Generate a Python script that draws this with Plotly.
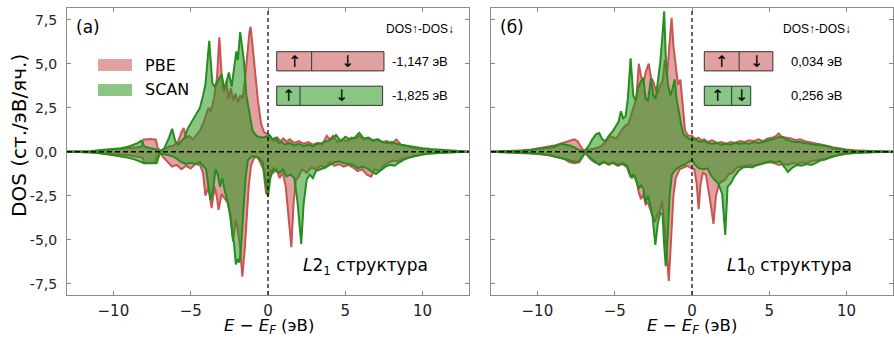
import plotly.graph_objects as go

W, H = 894, 339

# ---------------- DATA: L2_1 structure (panel a) ----------------
l21_pbe_up_E = [-13, -12.5, -11.5, -10.5, -9.5, -9, -8.5, -8.15, -8.05, -7.6, -7.25, -7.15, -6.95, -6.7, -6.4, -6.1, -5.8, -5.6, -5.45, -5.3, -5.1, -4.85, -4.6, -4.4, -4.2, -4.0, -3.85, -3.7, -3.5, -3.3, -3.15, -3.0, -2.85, -2.7, -2.55, -2.4, -2.25, -2.1, -1.95, -1.8, -1.65, -1.5, -1.35, -1.2, -1.12, -1.0, -0.86, -0.65, -0.45, -0.25, 0, 0.2, 0.4, 0.6, 0.8, 1.0, 1.2, 1.4, 1.7, 2.0, 2.3, 2.6, 2.9, 3.2, 3.5, 3.8, 4.0, 4.2, 4.5, 4.8, 5.1, 5.4, 5.7, 5.9, 6.2, 6.5, 6.8, 7.1, 7.4, 7.7, 8.0, 8.3, 8.6, 9.0, 9.5, 10, 10.5, 11, 11.5, 12, 12.5, 13]
l21_pbe_up_v = [0, 0, 0.03, 0.08, 0.15, 0.2, 0.25, 0.3, 0.7, 0.72, 0.68, 0.25, 0.05, 0.15, 0.3, 0.35, 0.6, 1.1, 1.35, 0.8, 0.9, 0.7, 1.0, 1.2, 1.6, 2.1, 2.5, 2.3, 3.0, 4.2, 6.5, 4.4, 3.4, 4.0, 3.0, 3.6, 2.9, 3.3, 2.8, 3.2, 3.0, 4.0, 5.5, 6.8, 7.1, 6.0, 4.7, 2.9, 1.6, 1.1, 1.0, 0.75, 0.6, 0.8, 0.6, 0.75, 0.55, 0.7, 0.5, 0.6, 0.45, 0.55, 0.4, 0.5, 0.4, 0.9, 0.7, 0.9, 0.55, 0.7, 0.6, 0.8, 0.75, 0.9, 0.7, 0.75, 0.6, 0.7, 0.55, 0.6, 0.45, 0.7, 0.4, 0.3, 0.2, 0.15, 0.1, 0.1, 0.05, 0.05, 0.02, 0]

l21_scan_up_E = [-13, -12.5, -11.5, -10.8, -10, -9.5, -9, -8.7, -8.4, -8.2, -8.0, -7.6, -7.3, -7.0, -6.7, -6.4, -6.2, -6.0, -5.8, -5.6, -5.4, -5.2, -5.0, -4.8, -4.6, -4.4, -4.2, -4.05, -3.8, -3.6, -3.45, -3.25, -3.0, -2.85, -2.7, -2.53, -2.35, -2.2, -2.05, -1.95, -1.8, -1.65, -1.55, -1.4, -1.2, -1.0, -0.75, -0.4, 0, 0.1, 0.3, 0.5, 0.7, 0.9, 1.1, 1.4, 1.7, 2.0, 2.3, 2.6, 2.9, 3.2, 3.5, 3.8, 4.1, 4.4, 4.7, 5.0, 5.3, 5.6, 5.9, 6.2, 6.5, 6.8, 7.1, 7.4, 7.7, 8.0, 8.3, 8.6, 8.9, 9.2, 9.6, 10, 10.5, 11, 11.5, 12, 12.5, 13]
l21_scan_up_v = [0, 0, 0.02, 0.1, 0.15, 0.2, 0.3, 0.38, 0.5, 0.62, 0.3, 0.2, 0.15, 0.0, 0.2, 0.8, 1.3, 0.6, 0.4, 0.6, 0.8, 1.3, 1.6, 1.9, 2.2, 2.5, 3.2, 3.8, 6.3, 3.9, 3.7, 4.0, 4.4, 3.6, 3.9, 4.5, 3.7, 4.7, 5.7, 5.2, 6.8, 5.8, 5.1, 3.2, 2.3, 1.2, 0.9, 0.8, 0.9, 0.95, 0.7, 0.8, 0.5, 0.55, 0.4, 0.5, 0.35, 0.45, 0.3, 0.4, 0.3, 0.45, 0.5, 0.6, 0.7, 0.95, 0.6, 0.85, 0.7, 0.8, 1.08, 0.75, 0.8, 0.65, 0.7, 0.55, 0.5, 0.55, 0.45, 0.4, 0.35, 0.3, 0.25, 0.2, 0.15, 0.12, 0.08, 0.05, 0.03, 0]

l21_pbe_dn_E = [-13, -12.5, -11.5, -10.5, -9.5, -9, -8.5, -8.1, -8.0, -7.3, -7.2, -7.0, -6.8, -6.5, -6.2, -5.9, -5.6, -5.3, -5.0, -4.7, -4.4, -4.2, -4.05, -3.85, -3.65, -3.45, -3.3, -3.2, -3.0, -2.85, -2.6, -2.4, -2.26, -2.1, -1.95, -1.8, -1.66, -1.5, -1.4, -1.25, -1.1, -0.9, -0.7, -0.5, -0.3, -0.12, 0.0, 0.15, 0.35, 0.55, 0.75, 0.95, 1.15, 1.35, 1.51, 1.65, 1.8, 2.0, 2.2, 2.5, 2.8, 3.1, 3.4, 3.7, 4.0, 4.3, 4.6, 4.9, 5.2, 5.5, 5.8, 6.1, 6.4, 6.67, 6.9, 7.2, 7.5, 7.8, 8.1, 8.4, 8.7, 9.0, 9.4, 9.8, 10.3, 11, 11.5, 12, 13]
l21_pbe_dn_v = [0, 0, -0.05, -0.1, -0.15, -0.2, -0.28, -0.35, -0.65, -0.62, -0.3, -0.05, -0.3, -0.6, -0.85, -0.75, -1.0, -0.8, -0.95, -0.7, -0.75, -1.2, -2.5, -2.0, -3.2, -2.0, -2.6, -3.3, -2.4, -2.6, -2.9, -3.8, -5.1, -3.9, -4.4, -5.5, -7.1, -5.5, -4.0, -2.0, -0.8, -0.35, -0.3, -0.6, -1.0, -2.4, -2.3, -1.0, -1.2, -1.0, -1.5, -1.2, -2.0, -3.8, -5.43, -3.0, -1.6, -1.4, -1.0, -1.2, -0.9, -1.0, -0.8, -0.9, -0.6, -0.8, -0.7, -0.85, -0.75, -0.9, -1.1, -1.0, -1.3, -1.42, -1.0, -1.1, -0.8, -0.6, -0.5, -0.55, -0.4, -0.35, -0.25, -0.2, -0.12, -0.08, -0.05, -0.03, 0]

l21_scan_dn_E = [-13, -12.5, -11.5, -11, -10.5, -10, -9.5, -9, -8.6, -8.3, -8.0, -7.2, -7.0, -6.7, -6.4, -6.2, -5.9, -5.6, -5.3, -5.0, -4.7, -4.4, -4.2, -4.0, -3.85, -3.72, -3.55, -3.4, -3.25, -3.1, -2.95, -2.8, -2.6, -2.45, -2.3, -2.2, -2.08, -1.95, -1.85, -1.75, -1.6, -1.45, -1.3, -1.1, -0.9, -0.6, -0.35, -0.15, 0, 0.15, 0.35, 0.55, 0.75, 0.95, 1.2, 1.45, 1.7, 1.9, 2.15, 2.3, 2.5, 2.7, 2.9, 3.1, 3.4, 3.7, 4.0, 4.3, 4.6, 4.9, 5.2, 5.5, 5.8, 6.1, 6.4, 6.7, 6.98, 7.3, 7.6, 7.9, 8.2, 8.5, 8.8, 9.1, 9.5, 10, 10.5, 11, 11.5, 12, 13]
l21_scan_dn_v = [0, 0, -0.03, -0.08, -0.12, -0.2, -0.28, -0.35, -0.45, -0.55, -0.65, -0.66, -0.1, -0.15, -0.2, -0.25, -0.4, -0.6, -0.7, -0.65, -0.7, -0.6, -0.8, -1.0, -2.0, -2.75, -2.2, -1.0, -1.3, -2.0, -1.5, -2.2, -2.9, -3.6, -4.8, -5.2, -6.4, -6.1, -6.3, -5.5, -3.5, -1.5, -0.5, -0.3, -0.25, -0.35, -0.6, -1.6, -2.56, -1.5, -0.95, -1.1, -1.2, -1.0, -1.4, -1.3, -1.5, -2.8, -5.24, -3.0, -1.6, -1.3, -1.5, -1.1, -1.0, -0.9, -0.75, -0.6, -0.55, -0.65, -0.7, -0.75, -0.95, -0.85, -0.95, -1.1, -1.27, -1.05, -0.85, -0.75, -0.8, -0.6, -0.45, -0.35, -0.25, -0.15, -0.1, -0.06, -0.04, -0.02, 0]

# ---------------- DATA: L1_0 structure (panel б) ----------------
l10_pbe_up_E = [-13, -12, -11, -10.4, -9.9, -9.4, -8.9, -8.5, -8.2, -7.9, -7.6, -7.4, -7.2, -7.0, -6.8, -6.5, -6.2, -5.9, -5.6, -5.35, -5.1, -4.9, -4.7, -4.5, -4.3, -4.1, -3.9, -3.75, -3.6, -3.44, -3.3, -3.15, -3.0, -2.8, -2.65, -2.5, -2.35, -2.2, -2.05, -1.9, -1.75, -1.6, -1.45, -1.32, -1.2, -1.05, -0.9, -0.75, -0.6, -0.45, -0.25, 0, 0.2, 0.4, 0.6, 0.8, 1.0, 1.3, 1.6, 1.9, 2.2, 2.5, 2.8, 3.1, 3.4, 3.7, 4.0, 4.3, 4.6, 4.9, 5.2, 5.45, 5.6, 5.8, 6.1, 6.4, 6.7, 7.0, 7.3, 7.6, 7.9, 8.2, 8.5, 8.8, 9.1, 9.5, 10, 10.5, 11, 12, 13]
l10_pbe_up_v = [0, 0.03, 0.08, 0.13, 0.2, 0.28, 0.35, 0.45, 0.55, 0.62, 0.7, 0.6, 0.3, 0.05, 0.1, 0.15, 0.2, 0.3, 0.55, 0.9, 0.8, 0.75, 1.0, 1.3, 1.5, 1.6, 2.2, 2.6, 3.0, 5.0, 4.3, 3.9, 4.5, 5.0, 4.2, 4.0, 3.5, 3.3, 3.8, 4.0, 5.2, 4.5, 6.0, 7.6, 6.0, 5.0, 3.8, 4.1, 2.5, 1.2, 0.9, 0.9, 0.7, 0.8, 0.65, 0.7, 0.55, 0.65, 0.5, 0.55, 0.45, 0.55, 0.5, 0.6, 0.55, 0.65, 0.6, 0.7, 0.6, 0.75, 0.8, 0.9, 1.04, 0.85, 0.8, 0.75, 0.65, 0.7, 0.6, 0.55, 0.5, 0.45, 0.4, 0.32, 0.25, 0.18, 0.12, 0.08, 0.05, 0.02, 0]

l10_scan_up_E = [-13, -12, -11, -10.4, -9.9, -9.4, -8.9, -8.5, -8.2, -7.9, -7.6, -7.3, -7.0, -6.7, -6.45, -6.2, -6.0, -5.8, -5.6, -5.38, -5.1, -4.95, -4.75, -4.6, -4.45, -4.3, -4.15, -3.97, -3.8, -3.65, -3.5, -3.3, -3.15, -3.0, -2.85, -2.65, -2.5, -2.35, -2.2, -2.05, -1.92, -1.8, -1.68, -1.55, -1.4, -1.25, -1.12, -1.0, -0.85, -0.7, -0.55, -0.3, 0, 0.2, 0.4, 0.6, 0.8, 1.0, 1.3, 1.6, 1.9, 2.2, 2.5, 2.8, 3.1, 3.4, 3.7, 4.0, 4.3, 4.6, 4.9, 5.2, 5.5, 5.8, 6.1, 6.4, 6.7, 7.0, 7.3, 7.6, 7.9, 8.2, 8.5, 8.8, 9.1, 9.5, 10, 10.5, 11, 12, 13]
l10_scan_up_v = [0, 0.02, 0.06, 0.1, 0.15, 0.2, 0.28, 0.45, 0.4, 0.35, 0.25, 0.1, 0.0, 0.3, 0.7, 1.0, 1.06, 0.7, 0.6, 0.9, 1.2, 1.45, 1.7, 2.3, 1.9, 2.0, 3.0, 5.3, 3.2, 2.9, 3.6, 4.0, 4.2, 3.0, 2.9, 4.2, 3.2, 3.0, 4.0, 5.1, 6.5, 7.97, 5.0, 3.8, 3.2, 3.6, 4.1, 3.0, 2.3, 1.5, 1.0, 0.8, 0.65, 0.75, 0.6, 0.55, 0.6, 0.5, 0.45, 0.5, 0.4, 0.45, 0.4, 0.5, 0.45, 0.5, 0.45, 0.55, 0.5, 0.55, 0.65, 0.7, 0.8, 0.85, 0.7, 0.6, 0.55, 0.55, 0.5, 0.45, 0.4, 0.4, 0.35, 0.3, 0.2, 0.13, 0.08, 0.05, 0.03, 0.02, 0]

l10_pbe_dn_E = [-13, -12, -11.3, -10.5, -9.8, -9.3, -8.8, -8.3, -7.9, -7.6, -7.3, -7.1, -6.9, -6.6, -6.3, -6.0, -5.7, -5.4, -5.1, -4.8, -4.5, -4.2, -4.0, -3.8, -3.6, -3.45, -3.3, -3.15, -3.0, -2.85, -2.7, -2.55, -2.4, -2.25, -2.1, -1.94, -1.8, -1.65, -1.5, -1.35, -1.2, -1.05, -0.8, -0.55, -0.3, -0.1, 0, 0.15, 0.3, 0.43, 0.55, 0.7, 0.9, 1.1, 1.25, 1.39, 1.55, 1.75, 1.95, 2.15, 2.35, 2.6, 2.9, 3.2, 3.5, 3.8, 4.1, 4.4, 4.7, 5.0, 5.3, 5.6, 5.9, 6.2, 6.5, 6.8, 7.1, 7.4, 7.7, 8.0, 8.3, 8.6, 8.9, 9.2, 9.6, 10, 10.5, 11, 12, 13]
l10_pbe_dn_v = [0, -0.03, -0.05, -0.1, -0.15, -0.2, -0.3, -0.4, -0.6, -0.66, -0.6, -0.3, -0.05, -0.4, -0.6, -0.7, -0.55, -0.75, -0.65, -0.8, -0.7, -0.9, -1.4, -1.3, -1.6, -2.3, -2.7, -2.4, -3.0, -2.9, -3.3, -3.6, -4.0, -3.6, -3.4, -2.8, -4.0, -5.5, -7.35, -5.0, -2.5, -1.5, -1.0, -0.9, -0.8, -0.9, -0.95, -1.0, -1.8, -3.27, -1.9, -1.2, -1.3, -2.3, -3.2, -4.1, -2.5, -1.8, -1.7, -1.6, -1.3, -1.2, -0.9, -0.85, -0.8, -0.75, -0.8, -0.7, -0.65, -0.6, -0.65, -0.75, -0.7, -0.75, -0.65, -0.7, -0.6, -0.65, -0.55, -0.5, -0.45, -0.4, -0.3, -0.25, -0.18, -0.12, -0.08, -0.05, -0.02, 0]

l10_scan_dn_E = [-13, -12, -11.3, -10.5, -9.8, -9.3, -8.8, -8.3, -7.9, -7.6, -7.3, -7.1, -6.9, -6.6, -6.3, -6.0, -5.7, -5.4, -5.1, -4.8, -4.5, -4.2, -4.05, -3.9, -3.75, -3.6, -3.43, -3.3, -3.15, -3.0, -2.85, -2.7, -2.55, -2.37, -2.2, -2.05, -1.9, -1.8, -1.7, -1.58, -1.45, -1.3, -1.08, -0.8, -0.5, -0.25, 0, 0.2, 0.45, 0.75, 1.0, 1.2, 1.45, 1.7, 1.95, 2.15, 2.3, 2.5, 2.75, 3.0, 3.3, 3.6, 3.9, 4.2, 4.5, 4.8, 5.1, 5.4, 5.7, 6.0, 6.2, 6.5, 6.8, 7.1, 7.4, 7.7, 8.0, 8.3, 8.6, 8.9, 9.2, 9.6, 10, 10.5, 11, 12, 13]
l10_scan_dn_v = [0, -0.02, -0.04, -0.08, -0.13, -0.18, -0.28, -0.38, -0.5, -0.57, -0.55, -0.3, -0.05, -0.35, -0.55, -0.75, -0.6, -0.7, -0.6, -0.75, -0.65, -0.8, -1.2, -1.5, -1.3, -1.7, -2.1, -1.9, -2.1, -2.9, -2.5, -3.0, -3.7, -5.3, -4.0, -3.5, -3.6, -5.3, -6.5, -5.0, -2.5, -1.3, -1.04, -0.85, -0.75, -0.6, -0.48, -0.75, -0.95, -1.0, -0.95, -1.3, -1.6, -1.8, -2.4, -4.73, -2.0, -1.8, -1.4, -1.1, -0.9, -0.85, -0.9, -0.75, -0.7, -0.6, -0.55, -0.6, -0.55, -0.9, -1.15, -0.9, -0.75, -0.8, -0.7, -0.75, -0.65, -0.5, -0.45, -0.35, -0.25, -0.15, -0.1, -0.06, -0.04, -0.02, 0]

# DOS at the Fermi level (spin up, spin down) shown as split bars: [PBE, SCAN]
l21_bar_up = [1.075, 0.717]
l21_bar_dn = [2.225, 2.542]
l10_bar_up = [1.072, 0.842]
l10_bar_dn = [1.038, 0.586]
l21_bar_text = ["-1,147 эВ", "-1,825 эВ"]
l10_bar_text = ["0,034 эВ", "0,256 эВ"]

x_tickvals = [-10, -5, 0, 5, 10]
x_ticktext = ["−10", "−5", "0", "5", "10"]
y_tickvals = [-7.5, -5.0, -2.5, 0.0, 2.5, 5.0, 7.5]
y_ticktext = ["-7,5", "-5,0", "-2,5", "0,0", "2,5", "5,0", "7,5"]

# ---------------- STYLE ----------------
RED_LINE = "rgb(200,84,84)"
RED_FILL = "rgba(200,84,84,0.55)"
GRN_LINE = "rgb(36,142,30)"
GRN_FILL = "rgba(40,150,30,0.55)"
FONT = "DejaVu Sans"
AX_COL = "#8c8c8c"


def P(px, py):
    return px / W, 1 - py / H


fig = go.Figure()

panels = [
    ("x", "y", l21_pbe_up_E, l21_pbe_up_v, l21_pbe_dn_E, l21_pbe_dn_v,
     l21_scan_up_E, l21_scan_up_v, l21_scan_dn_E, l21_scan_dn_v),
    ("x2", "y2", l10_pbe_up_E, l10_pbe_up_v, l10_pbe_dn_E, l10_pbe_dn_v,
     l10_scan_up_E, l10_scan_up_v, l10_scan_dn_E, l10_scan_dn_v),
]
for (xa, ya, pe_u, pv_u, pe_d, pv_d, se_u, sv_u, se_d, sv_d) in panels:
    for ex, vy, lc, fc in [(pe_u, pv_u, RED_LINE, RED_FILL), (pe_d, pv_d, RED_LINE, RED_FILL),
                           (se_u, sv_u, GRN_LINE, GRN_FILL), (se_d, sv_d, GRN_LINE, GRN_FILL)]:
        fig.add_trace(go.Scatter(x=ex, y=vy, xaxis=xa, yaxis=ya, mode="lines",
                                 line=dict(color=lc, width=2), fill="tozeroy",
                                 fillcolor=fc, showlegend=False, hoverinfo="skip"))

x_dom1 = [67 / W, 469 / W]
x_dom2 = [491 / W, 893 / W]
y_dom = [1 - 295 / H, 1 - 8 / H]
yr = [-8.142, 8.165]

common_x = dict(range=[-13, 13], tickvals=x_tickvals, ticktext=x_ticktext,
                ticks="inside", ticklen=4, tickcolor=AX_COL, mirror="allticks",
                showline=True, linecolor=AX_COL, linewidth=1, showgrid=False,
                zeroline=False, tickfont=dict(family=FONT, size=15, color="#222"),
                ticklabelstandoff=2)
common_y = dict(range=yr, tickvals=y_tickvals, ticktext=y_ticktext,
                ticks="inside", ticklen=4, tickcolor=AX_COL, mirror="allticks",
                showline=True, linecolor=AX_COL, linewidth=1, showgrid=False,
                zeroline=False, tickfont=dict(family=FONT, size=14, color="#222"),
                ticklabelstandoff=6, domain=y_dom)

fig.update_layout(
    width=W, height=H, margin=dict(l=0, r=0, t=0, b=0),
    paper_bgcolor="white", plot_bgcolor="white", showlegend=False,
    xaxis=dict(domain=x_dom1, anchor="y", **common_x),
    yaxis=dict(anchor="x", **common_y),
    xaxis2=dict(domain=x_dom2, anchor="y2", **common_x),
    yaxis2=dict(anchor="x2", showticklabels=False, **common_y),
)

shapes = []
annotations = []

# dashed zero lines
for xa, ya in [("x", "y"), ("x2", "y2")]:
    shapes.append(dict(type="line", xref=xa + " domain", yref=ya, x0=0, x1=1, y0=0, y1=0,
                       line=dict(color="black", width=1.5, dash="5px,3px"), layer="above"))
    shapes.append(dict(type="line", xref=xa, yref=ya + " domain", x0=0, x1=0, y0=0, y1=1,
                       line=dict(color="black", width=1.2, dash="4px,3px"), layer="above"))

# legend patches (panel a)
for (label, fc, py0) in [("PBE", RED_FILL, 59), ("SCAN", GRN_FILL, 84)]:
    x0, y0 = P(98, py0)
    x1, y1 = P(132, py0 + 12)
    shapes.append(dict(type="rect", xref="paper", yref="paper", x0=x0, x1=x1, y0=y1, y1=y0,
                       fillcolor=fc, line=dict(width=0)))
    tx, ty = P(143, py0 + 6)
    annotations.append(dict(text=label, xref="paper", yref="paper", x=tx, y=ty,
                            xanchor="left", yanchor="middle", showarrow=False,
                            font=dict(family=FONT, size=16, color="black")))

# split bars
PX_PER_UNIT = 32.5
for (bx, ups, dns, texts, tx_px, title_cx) in [
        (276.7, l21_bar_up, l21_bar_dn, l21_bar_text, 390, 419.5),
        (704.3, l10_bar_up, l10_bar_dn, l10_bar_text, 789, 816.5)]:
    for i, (u, d, t, fc) in enumerate(zip(ups, dns, texts, [RED_FILL, GRN_FILL])):
        py0 = 51.7 + i * 34.5
        py1 = py0 + 19.2
        xm = bx + u * PX_PER_UNIT
        xe = xm + d * PX_PER_UNIT
        a0 = P(bx, py0); a1 = P(xe, py1)
        shapes.append(dict(type="rect", xref="paper", yref="paper", x0=a0[0], x1=a1[0],
                           y0=a1[1], y1=a0[1], fillcolor=fc,
                           line=dict(color="#333", width=1)))
        m0 = P(xm, py0); m1 = P(xm, py1)
        shapes.append(dict(type="line", xref="paper", yref="paper", x0=m0[0], x1=m1[0],
                           y0=m0[1], y1=m1[1], line=dict(color="#333", width=1)))
        cy = (py0 + py1) / 2
        for sym, cx in [("↑", (bx + xm) / 2), ("↓", (xm + xe) / 2)]:
            ax_, ay_ = P(cx, cy)
            annotations.append(dict(text=sym, xref="paper", yref="paper", x=ax_, y=ay_,
                                    xanchor="center", yanchor="middle", showarrow=False,
                                    font=dict(family=FONT, size=16, color="black")))
        lx, ly = P(tx_px, cy)
        annotations.append(dict(text=t, xref="paper", yref="paper", x=lx, y=ly,
                                xanchor="left", yanchor="middle", showarrow=False,
                                font=dict(family="Liberation Sans", size=13, color="black")))
    hx, hy = P(title_cx, 29)
    annotations.append(dict(text="DOS↑-DOS↓", xref="paper", yref="paper", x=hx, y=hy,
                            xanchor="center", yanchor="middle", showarrow=False,
                            font=dict(family="Liberation Sans", size=12, color="black")))

# panel letters
for txt, px in [("(a)", 88), ("(б)", 512)]:
    x, y = P(px, 27)
    annotations.append(dict(text=txt, xref="paper", yref="paper", x=x, y=y,
                            xanchor="center", yanchor="middle", showarrow=False,
                            font=dict(family=FONT, size=17, color="black")))

# structure labels
for txt, px in [("<i>L</i>2<sub>1</sub> структура", 365.5), ("<i>L</i>1<sub>0</sub> структура", 789)]:
    x, y = P(px, 266)
    annotations.append(dict(text=txt, xref="paper", yref="paper", x=x, y=y,
                            xanchor="center", yanchor="middle", showarrow=False,
                            font=dict(family=FONT, size=17, color="black")))

# axis titles
for px in [268.5, 692]:
    x, y = P(px, 326)
    annotations.append(dict(text="<i>E</i> − <i>E</i><sub><i>F</i></sub> (эВ)", xref="paper",
                            yref="paper", x=x, y=y, xanchor="center", yanchor="middle",
                            showarrow=False, font=dict(family=FONT, size=16.5, color="black")))
x, y = P(19, 136)
annotations.append(dict(text="DOS (ст./эВ/яч.)", xref="paper", yref="paper", x=x, y=y,
                        xanchor="center", yanchor="middle", textangle=-90, showarrow=False,
                        font=dict(family=FONT, size=20, color="black")))

fig.update_layout(shapes=shapes, annotations=annotations)
fig.write_html("out.html")
